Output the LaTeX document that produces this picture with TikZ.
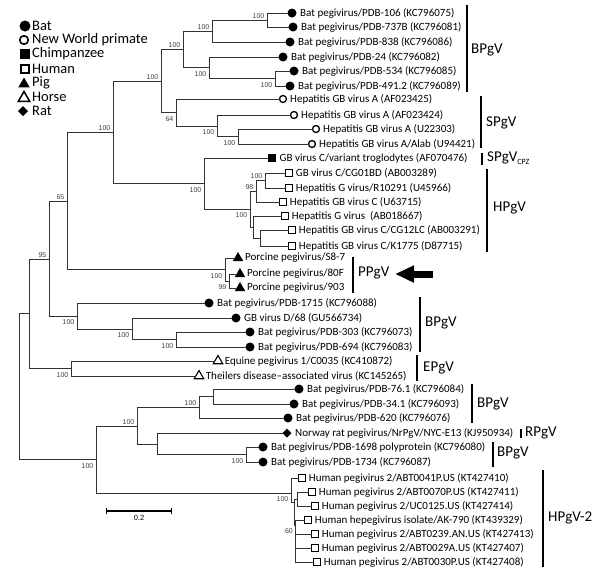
\documentclass[tikz,border=0pt]{standalone}
\usepackage{fontspec}
\setmainfont{Carlito}
\newfontfamily\bsfont{Liberation Sans}
\usetikzlibrary{positioning, arrows.meta, shapes.geometric}

\begin{document}
\begin{tikzpicture}[
    x=1pt, y=-1pt,
    node distance=3.5pt,
    branch/.style={draw=black!80, line width=1pt},
    marker/.style={inner sep=0pt, outer sep=0pt},
    bat/.style={marker, circle, fill, minimum size=9pt},
    nwp/.style={marker, circle, draw, fill=white, line width=1.3pt, minimum size=7pt},
    chimp/.style={marker, rectangle, fill, minimum size=8pt},
    human/.style={marker, rectangle, draw, fill=white, line width=1.2pt, minimum size=6.5pt},
    pig/.style={marker, regular polygon, regular polygon sides=3, fill, minimum size=12pt},
    horse/.style={marker, regular polygon, regular polygon sides=3, draw, fill=white, line width=1.1pt, minimum size=11pt},
    rat/.style={marker, diamond, fill, minimum size=9pt},
    taxon/.style={inner sep=0pt, font=\fontsize{11}{13}\selectfont},
    bs/.style={inner sep=0.5pt, font=\bsfont\fontsize{7}{8}\selectfont, text=black!75},
    clade/.style={anchor=west, inner sep=0pt, font=\fontsize{15}{17}\selectfont},
    bar/.style={line width=1.2pt},
    key/.style={anchor=west, inner sep=0pt, font=\fontsize{14.5}{16}\selectfont},
    pointer/.style={line width=7pt, -{Triangle[length=19pt, width=16pt]}}
]
\useasboundingbox (0,0) rectangle (600,584);

% legend
\node[bat, minimum size=11pt] (key-bat) at (25,26) {};
\node[key] (key-bat-t) at (32,26) {Bat};
\node[nwp, minimum size=8.5pt, line width=1.6pt] (key-nwp) at (24,40) {};
\node[key] (key-nwp-t) at (32,40) {New World primate};
\node[chimp, minimum size=9.5pt] (key-chimp) at (25,54) {};
\node[key] (key-chimp-t) at (32,54) {Chimpanzee};
\node[human, minimum size=8pt, line width=1.6pt] (key-human) at (25,69) {};
\node[key] (key-human-t) at (32,69) {Human};
\node[pig, minimum size=13pt] (key-pig) at (24,84) {};
\node[key] (key-pig-t) at (32,83) {Pig};
\node[horse, minimum size=13pt, line width=1.5pt] (key-horse) at (24,98) {};
\node[key] (key-horse-t) at (32,97) {Horse};
\node[rat, minimum size=10pt] (key-rat) at (23,111) {};
\node[key] (key-rat-t) at (32,111) {Rat};

% internal nodes
\coordinate (A) at (267,20);
\coordinate (B) at (212,31);
\coordinate (C) at (209,67.5);
\coordinate (D) at (275,78.5);
\coordinate (E) at (183,49.5);
\coordinate (F) at (161,81);
\coordinate (G) at (176,112.5);
\coordinate (G2) at (217,126);
\coordinate (G3) at (238,136.5);
\coordinate (H) at (113,132);
\coordinate (I) at (67,201);
\coordinate (J) at (204,183.5);
\coordinate (K) at (250,209);
\coordinate (L) at (256,191);
\coordinate (M) at (265,180.5);
\coordinate (N) at (253,227);
\coordinate (O) at (260,238);
\coordinate (P) at (225,269.5);
\coordinate (Q) at (229,281);
\coordinate (R) at (29,313.5);
\coordinate (S) at (49,259);
\coordinate (T) at (77,316);
\coordinate (U) at (132,329);
\coordinate (V) at (176,339.5);
\coordinate (W) at (71,368.5);
\coordinate (X) at (19,386);
\coordinate (Y) at (96,459.5);
\coordinate (Z) at (137,426);
\coordinate (AA) at (199,407.5);
\coordinate (AB) at (213,396.5);
\coordinate (AC) at (157,444.5);
\coordinate (AD) at (246,454.5);
\coordinate (AE) at (291,493);
\coordinate (AF) at (294,502);
\coordinate (AG) at (297,499);
\coordinate (AH) at (295.5,525);

% taxa
\node[bat] (pdb106) at (292,13) {}; \node[taxon, right=of pdb106] (pdb106-t) {Bat pegivirus/PDB-106 (KC796075)};
\node[bat] (pdb737) at (293,27) {}; \node[taxon, right=of pdb737] (pdb737-t) {Bat pegivirus/PDB-737B (KC796081)};
\node[bat] (pdb838) at (290,42) {}; \node[taxon, right=of pdb838] (pdb838-t) {Bat pegivirus/PDB-838 (KC796086)};
\node[bat] (pdb24) at (283,57) {}; \node[taxon, right=of pdb24] (pdb24-t) {Bat pegivirus/PDB-24 (KC796082)};
\node[bat] (pdb534) at (294,71) {}; \node[taxon, right=of pdb534] (pdb534-t) {Bat pegivirus/PDB-534 (KC796085)};
\node[bat] (pdb491) at (290,86) {}; \node[taxon, right=of pdb491] (pdb491-t) {Bat pegivirus/PDB-491.2 (KC796089)};
\node[nwp] (gbva25) at (283,99) {}; \node[taxon, right=of gbva25] (gbva25-t) {Hepatitis GB virus A (AF023425)};
\node[nwp] (gbva24) at (294,115) {}; \node[taxon, right=of gbva24] (gbva24-t) {Hepatitis GB virus A (AF023424)};
\node[nwp] (gbvau22) at (316,129) {}; \node[taxon, right=of gbvau22] (gbvau22-t) {Hepatitis GB virus A (U22303)};
\node[nwp] (alab) at (312,144) {}; \node[taxon, right=of alab] (alab-t) {Hepatitis GB virus A/Alab (U94421)};
\node[chimp] (trog) at (272,158) {}; \node[taxon, right=of trog] (trog-t) {GB virus C/variant troglodytes (AF070476)};
\node[human] (cg01bd) at (289,173) {}; \node[taxon, right=of cg01bd] (cg01bd-t) {GB virus C/CG01BD (AB003289)};
\node[human] (r10291) at (289,188) {}; \node[taxon, right=of r10291] (r10291-t) {Hepatitis G virus/R10291 (U45966)};
\node[human] (u63715) at (283,202) {}; \node[taxon, right=of u63715] (u63715-t) {Hepatitis GB virus C (U63715)};
\node[human] (ab018667) at (285,216) {}; \node[taxon, right=of ab018667] (ab018667-t) {Hepatitis G virus\ \ (AB018667)};
\node[human] (cg12lc) at (292,230) {}; \node[taxon, right=of cg12lc] (cg12lc-t) {Hepatitis GB virus C/CG12LC (AB003291)};
\node[human] (k1775) at (292,246) {}; \node[taxon, right=of k1775] (k1775-t) {Hepatitis GB virus C/K1775 (D87715)};
\node[pig] (s87) at (238,258) {}; \node[taxon, right=of s87] (s87-t) {Porcine pegivirus/S8-7};
\node[pig] (p80f) at (240,274) {}; \node[taxon, right=of p80f] (p80f-t) {Porcine pegivirus/80F};
\node[pig] (p903) at (240,288) {}; \node[taxon, right=of p903] (p903-t) {Porcine pegivirus/903};
\node[bat] (pdb1715) at (209,303) {}; \node[taxon, right=of pdb1715] (pdb1715-t) {Bat pegivirus/PDB-1715 (KC796088)};
\node[bat] (gbvd) at (236,318) {}; \node[taxon, right=of gbvd] (gbvd-t) {GB virus D/68 (GU566734)};
\node[bat] (pdb303) at (250,332) {}; \node[taxon, right=of pdb303] (pdb303-t) {Bat pegivirus/PDB-303 (KC796073)};
\node[bat] (pdb694) at (250,347) {}; \node[taxon, right=of pdb694] (pdb694-t) {Bat pegivirus/PDB-694 (KC796083)};
\node[horse] (equine) at (218,361) {}; \node[taxon, right=of equine] (equine-t) {Equine pegivirus 1/C0035 (KC410872)};
\node[horse] (theiler) at (199,376) {}; \node[taxon, right=of theiler] (theiler-t) {Theilers disease–associated virus (KC145265)};
\node[bat] (pdb76) at (299,389) {}; \node[taxon, right=of pdb76] (pdb76-t) {Bat pegivirus/PDB-76.1 (KC796084)};
\node[bat] (pdb34) at (294,404) {}; \node[taxon, right=of pdb34] (pdb34-t) {Bat pegivirus/PDB-34.1 (KC796093)};
\node[bat] (pdb620) at (288,418) {}; \node[taxon, right=of pdb620] (pdb620-t) {Bat pegivirus/PDB-620 (KC796076)};
\node[rat] (nrpgv) at (287,433) {}; \node[taxon, right=of nrpgv] (nrpgv-t) {Norway rat pegivirus/NrPgV/NYC-E13 (KJ950934)};
\node[bat] (pdb1698) at (263,447) {}; \node[taxon, right=of pdb1698] (pdb1698-t) {Bat pegivirus/PDB-1698 polyprotein (KC796080)};
\node[bat] (pdb1734) at (263,462) {}; \node[taxon, right=of pdb1734] (pdb1734-t) {Bat pegivirus/PDB-1734 (KC796087)};
\node[human] (abt41) at (302,478) {}; \node[taxon, right=of abt41] (abt41-t) {Human pegivirus 2/ABT0041P.US (KT427410)};
\node[human] (abt70) at (312,492) {}; \node[taxon, right=of abt70] (abt70-t) {Human pegivirus 2/ABT0070P.US (KT427411)};
\node[human] (uc125) at (315,506) {}; \node[taxon, right=of uc125] (uc125-t) {Human pegivirus 2/UC0125.US (KT427414)};
\node[human] (ak790) at (308,520) {}; \node[taxon, right=of ak790] (ak790-t) {Human hepegivirus isolate/AK-790 (KT439329)};
\node[human] (abt239) at (315,534) {}; \node[taxon, right=of abt239] (abt239-t) {Human pegivirus 2/ABT0239.AN.US (KT427413)};
\node[human] (abt29) at (315,548) {}; \node[taxon, right=of abt29] (abt29-t) {Human pegivirus 2/ABT0029A.US (KT427407)};
\node[human] (abt30) at (317,562) {}; \node[taxon, right=of abt30] (abt30-t) {Human pegivirus 2/ABT0030P.US (KT427408)};

% branches
\draw[branch] (A) |- (pdb106) (A) |- (pdb737);
\draw[branch] (B) |- (A) (B) |- (pdb838);
\draw[branch] (D) |- (pdb534) (D) |- (pdb491);
\draw[branch] (C) |- (pdb24) (C) |- (D);
\draw[branch] (E) |- (B) (E) |- (C);
\draw[branch] (G3) |- (gbvau22) (G3) |- (alab);
\draw[branch] (G2) |- (gbva24) (G2) |- (G3);
\draw[branch] (G) |- (gbva25) (G) |- (G2);
\draw[branch] (F) |- (E) (F) |- (G);
\draw[branch] (M) |- (cg01bd) (M) |- (r10291);
\draw[branch] (L) |- (M) (L) |- (u63715);
\draw[branch] (O) |- (cg12lc) (O) |- (k1775);
\draw[branch] (N) |- (ab018667) (N) |- (O);
\draw[branch] (K) |- (L) (K) |- (N);
\draw[branch] (J) |- (trog) (J) |- (K);
\draw[branch] (H) |- (F) (H) |- (J);
\draw[branch] (Q) |- (p80f) (Q) |- (p903);
\draw[branch] (P) |- (s87) (P) |- (Q);
\draw[branch] (I) |- (H) (I) |- (P);
\draw[branch] (V) |- (pdb303) (V) |- (pdb694);
\draw[branch] (U) |- (gbvd) (U) |- (V);
\draw[branch] (T) |- (pdb1715) (T) |- (U);
\draw[branch] (S) |- (I) (S) |- (T);
\draw[branch] (W) |- (equine) (W) |- (theiler);
\draw[branch] (R) |- (S) (R) |- (W);
\draw[branch] (AB) |- (pdb76) (AB) |- (pdb34);
\draw[branch] (AA) |- (AB) (AA) |- (pdb620);
\draw[branch] (AD) |- (pdb1698) (AD) |- (pdb1734);
\draw[branch] (AC) |- (nrpgv) (AC) |- (AD);
\draw[branch] (Z) |- (AA) (Z) |- (AC);
\draw[branch] (AG) |- (abt70) (AG) |- (uc125);
\draw[branch] (AH) |- (ak790) (AH) |- (abt239) (AH) |- (abt29) (AH) |- (abt30);
\draw[branch] (AF) |- (AG) (AF) |- (AH);
\draw[branch] (AE) |- (abt41) (AE) |- (AF);
\draw[branch] (Y) |- (Z) (Y) |- (AE);
\draw[branch] (X) |- (R) (X) |- (Y);

% bootstrap values
\node[bs, above left=1pt and 2pt of A] (A-bs) {100};
\node[bs, above left=1pt and 2pt of B] (B-bs) {100};
\node[bs, below left=3pt and 2pt of C] (C-bs) {100};
\node[bs, below left=3pt and 2pt of D] (D-bs) {100};
\node[bs, above left=1pt and 2pt of E] (E-bs) {100};
\node[bs, above left=1pt and 2pt of F] (F-bs) {100};
\node[bs, below left=3pt and 2pt of G] (G-bs) {64};
\node[bs, below left=3pt and 2pt of G2] (G2-bs) {100};
\node[bs, below left=3pt and 2pt of G3] (G3-bs) {100};
\node[bs, above left=1pt and 2pt of H] (H-bs) {100};
\node[bs, above left=1pt and 2pt of I] (I-bs) {65};
\node[bs, below left=3pt and 2pt of J] (J-bs) {100};
\node[bs, below left=3pt and 2pt of K] (K-bs) {100};
\node[bs, above left=1pt and 2pt of L] (L-bs) {98};
\node[bs, above left=1pt and 2pt of M] (M-bs) {100};
\node[bs, below left=3pt and 2pt of P] (P-bs) {100};
\node[bs, below left=3pt and 2pt of Q] (Q-bs) {99};
\node[bs, above left=1pt and 2pt of S] (S-bs) {95};
\node[bs, below left=3pt and 2pt of T] (T-bs) {100};
\node[bs, below left=3pt and 2pt of U] (U-bs) {100};
\node[bs, below left=3pt and 2pt of V] (V-bs) {100};
\node[bs, below left=3pt and 2pt of W] (W-bs) {100};
\node[bs, below left=3pt and 2pt of Y] (Y-bs) {100};
\node[bs, above left=1pt and 2pt of Z] (Z-bs) {100};
\node[bs, above left=1pt and 2pt of AA] (AA-bs) {100};
\node[bs, below left=3pt and 2pt of AD] (AD-bs) {100};
\node[bs, below left=3pt and 2pt of AE] (AE-bs) {100};
\node[bs, below left=3pt and 2pt of AH] (AH-bs) {60};

% clades
\draw[bar] (467,5) -- (467,92);
\node[clade] (bpgv-a) at (471,50) {BPgV};
\draw[bar] (481,96) -- (481,148);
\node[clade] (spgv) at (486,123) {SPgV};
\draw[bar] (482,153) -- (482,165);
\node[clade] (spgv-cpz) at (487,158) {SPgV\raisebox{-3pt}{\fontsize{8}{8}\selectfont CPZ}};
\draw[bar] (487,169) -- (487,252);
\node[clade] (hpgv) at (493,208) {HPgV};
\draw[bar] (353,257) -- (353,293);
\node[clade] (ppgv) at (358,273) {PPgV};
\draw[bar] (420,297) -- (420,352);
\node[clade] (bpgv-b) at (425,323) {BPgV};
\draw[bar] (417,355) -- (417,381);
\node[clade] (epgv) at (423,368) {EPgV};
\draw[bar] (472,384) -- (472,423);
\node[clade] (bpgv-c) at (477,404) {BPgV};
\draw[bar] (521,429) -- (521,438);
\node[clade] (rpgv) at (525,433) {RPgV};
\draw[bar] (493,442) -- (493,467);
\node[clade] (bpgv-d) at (497,453) {BPgV};
\draw[bar] (543,470) -- (543,567);
\node[clade] (hpgv2) at (548,518) {HPgV-2};

% arrow at PPgV
\coordinate (arrow-tail) at (433,274);
\coordinate (arrow-tip) at (395,274);
\draw[pointer] (arrow-tail) -- (arrow-tip);

% scale bar
\coordinate (scale-l) at (106,511);
\coordinate (scale-r) at (172,511);
\draw[bar, {Bar[width=6pt]}-{Bar[width=6pt]}] (scale-l) -- (scale-r);
\node[bs, text=black, font=\bsfont\fontsize{7.5}{8}\selectfont, below=4pt of scale-l, xshift=33pt] (scale-t) {0.2};

\end{tikzpicture}
\end{document}
